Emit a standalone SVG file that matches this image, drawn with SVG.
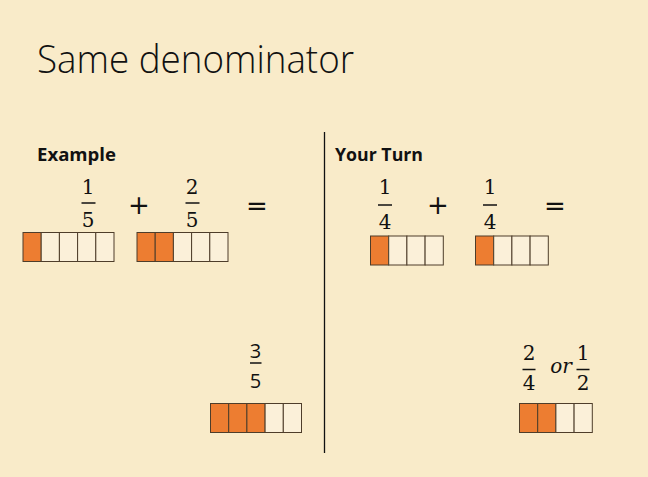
<svg xmlns="http://www.w3.org/2000/svg" width="648" height="477" viewBox="0 0 648 477">
<style>
.bg{fill:#F9EBC9}
.title{font-family:"Open Sans","Liberation Sans",sans-serif;font-weight:300;font-size:38px;fill:#111}
.head{font-family:"Open Sans","Liberation Sans",sans-serif;font-weight:700;font-size:18px;fill:#111}
.num{font-family:"DejaVu Serif","Liberation Serif",serif;font-size:20px;fill:#111;text-anchor:middle}
.sans{font-family:"Open Sans","Liberation Sans",sans-serif;font-size:20px;fill:#111;text-anchor:middle}
.op{font-family:"DejaVu Sans","Liberation Sans",sans-serif;font-size:26px;fill:#111;text-anchor:middle}
.bar{stroke:#111;stroke-width:1.5}
.on{fill:#ED7D31;stroke:#4E3D2A;stroke-width:1}
.off{fill:#FBF0D9;stroke:#4E3D2A;stroke-width:1}
</style>
<defs>
<rect id="cell" width="18.2" height="29"/>
</defs>
<rect class="bg" x="0" y="0" width="648" height="477"/>
<g id="title"><text class="title" x="37" y="73" textLength="317" lengthAdjust="spacingAndGlyphs">Same denominator</text></g>
<g id="example-label"><text class="head" x="37" y="161" textLength="79" lengthAdjust="spacingAndGlyphs">Example</text></g>
<g id="yourturn-label"><text class="head" x="335" y="161" textLength="88" lengthAdjust="spacingAndGlyphs">Your Turn</text></g>

<g id="connectors"><line x1="324.5" y1="132" x2="324.5" y2="453" stroke="#111" stroke-width="1.3"/></g>

<g id="frac-1-5"><text class="num" x="88" y="194">1</text><line class="bar" x1="81.5" y1="203" x2="95.5" y2="203"/><text class="num" x="88" y="227">5</text></g>
<g id="plus-1"><text class="op" x="139" y="214">+</text></g>
<g id="frac-2-5"><text class="num" x="192" y="194">2</text><line class="bar" x1="185.5" y1="203" x2="199.5" y2="203"/><text class="num" x="192" y="227">5</text></g>
<g id="eq-1"><text class="op" x="257" y="215">=</text></g>

<g id="frac-1-4a"><text class="num" x="385" y="194">1</text><line class="bar" x1="378" y1="205" x2="392" y2="205"/><text class="num" x="385" y="229">4</text></g>
<g id="plus-2"><text class="op" x="438" y="214">+</text></g>
<g id="frac-1-4b"><text class="num" x="490" y="194">1</text><line class="bar" x1="483" y1="205" x2="497" y2="205"/><text class="num" x="490" y="229">4</text></g>
<g id="eq-2"><text class="op" x="555" y="215">=</text></g>

<g id="frac-3-5"><text class="sans" x="255.5" y="358">3</text><line class="bar" x1="250" y1="363" x2="261.5" y2="363" stroke-width="1"/><text class="sans" x="255.5" y="388">5</text></g>
<g id="frac-answer"><text class="num" x="529" y="360">2</text><line class="bar" x1="522.5" y1="369.5" x2="535.5" y2="369.5"/><text class="num" x="529" y="390">4</text>
<text x="561" y="373" font-family="DejaVu Serif, Liberation Serif, serif" font-style="italic" font-size="20" fill="#111" text-anchor="middle">or</text>
<text class="num" x="583" y="360">1</text><line class="bar" x1="576.5" y1="369.5" x2="589.5" y2="369.5"/><text class="num" x="583" y="390">2</text></g>

<g id="bar-1-5">
<use href="#cell" class="on" x="23" y="232.5"/><use href="#cell" class="off" x="41.2" y="232.5"/><use href="#cell" class="off" x="59.4" y="232.5"/><use href="#cell" class="off" x="77.6" y="232.5"/><use href="#cell" class="off" x="95.8" y="232.5"/>
</g>
<g id="bar-2-5">
<use href="#cell" class="on" x="137" y="232.5"/><use href="#cell" class="on" x="155.2" y="232.5"/><use href="#cell" class="off" x="173.4" y="232.5"/><use href="#cell" class="off" x="191.6" y="232.5"/><use href="#cell" class="off" x="209.8" y="232.5"/>
</g>
<g id="bar-1-4a">
<use href="#cell" class="on" x="370.5" y="236"/><use href="#cell" class="off" x="388.7" y="236"/><use href="#cell" class="off" x="406.9" y="236"/><use href="#cell" class="off" x="425.1" y="236"/>
</g>
<g id="bar-1-4b">
<use href="#cell" class="on" x="475.5" y="236"/><use href="#cell" class="off" x="493.7" y="236"/><use href="#cell" class="off" x="511.9" y="236"/><use href="#cell" class="off" x="530.1" y="236"/>
</g>
<g id="bar-3-5">
<use href="#cell" class="on" x="210.5" y="403.5"/><use href="#cell" class="on" x="228.7" y="403.5"/><use href="#cell" class="on" x="246.9" y="403.5"/><use href="#cell" class="off" x="265.1" y="403.5"/><use href="#cell" class="off" x="283.3" y="403.5"/>
</g>
<g id="bar-2-4">
<use href="#cell" class="on" x="519.5" y="403.5"/><use href="#cell" class="on" x="537.7" y="403.5"/><use href="#cell" class="off" x="555.9" y="403.5"/><use href="#cell" class="off" x="574.1" y="403.5"/>
</g>
</svg>
